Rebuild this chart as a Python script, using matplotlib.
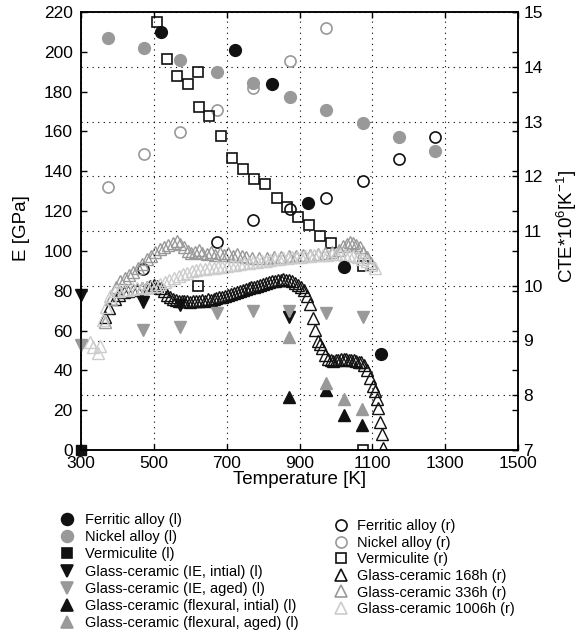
import matplotlib
matplotlib.use("Agg")
import matplotlib.pyplot as plt
from matplotlib.lines import Line2D

plt.rcParams['font.family'] = ['Liberation Sans', 'DejaVu Sans']
plt.rcParams['mathtext.fontset'] = 'custom'
plt.rcParams['mathtext.rm'] = 'Liberation Sans'

# ---------------- data: left axis (E, GPa) ----------------
ferr_l_T = [520, 723, 824, 922, 1022, 1123]
ferr_l_E = [210, 201, 184, 124, 92, 48]

nick_l_T = [373, 473, 573, 673, 773, 873, 973, 1073, 1173, 1273]
nick_l_E = [207, 202, 196, 190, 184.5, 177.5, 171, 164, 157.4, 150.2]

verm_l_T = [300]
verm_l_E = [0]

ie_init_T = [300, 471, 572, 872]
ie_init_E = [78, 74.5, 73, 67]

ie_aged_T = [300, 471, 572, 673, 773, 872, 973, 1073]
ie_aged_E = [52.7, 60.3, 62, 69, 70, 70, 69, 67]

flex_init_T = [872, 972, 1021, 1072]
flex_init_E = [26.8, 30, 17.6, 12.6]

flex_aged_T = [872, 972, 1021, 1072]
flex_aged_E = [57, 33.8, 25.4, 20.4]

# ---------------- data: right axis (CTE * 1e6, 1/K) ----------------
ferr_r_T = [471, 673, 773, 873, 973, 1073, 1173, 1273]
ferr_r_C = [10.30, 10.80, 11.21, 11.40, 11.60, 11.91, 12.31, 12.71]

nick_r_T = [373, 473, 573, 673, 773, 873, 973]
nick_r_C = [11.80, 12.41, 12.81, 13.21, 13.61, 14.11, 14.71]

verm_r_T = [508, 535, 563, 593, 622, 624, 652, 684, 715, 746, 776, 806,
            837, 867, 897, 926, 956, 986, 1073, 622, 1073]
verm_r_C = [14.82, 14.15, 13.84, 13.68, 13.91, 13.27, 13.10, 12.74, 12.33,
            12.13, 11.95, 11.85, 11.60, 11.43, 11.26, 11.11, 10.90, 10.78,
            10.36, 10.00, 7.00]

gc168_T = [366, 378, 392, 405, 418, 430, 442, 455, 468, 480, 490, 500, 510,
           520, 528, 536, 544, 552, 560, 568, 576, 584, 592, 600, 608, 616,
           624, 632, 640, 648, 656, 664, 672, 680, 688, 696, 704, 712, 720,
           728, 736, 744, 752, 760, 768, 776, 784, 792, 800, 808, 816, 824,
           832, 840, 848, 856, 864, 872, 880, 888, 896, 904, 912, 920, 929,
           938, 943, 951, 956, 962, 970, 979, 986, 993, 1000, 1007, 1014,
           1021, 1028, 1035, 1042, 1049, 1056, 1063, 1070, 1077, 1085, 1094,
           1103, 1107, 1112, 1116, 1121, 1126, 1130]
gc168_C = [9.43, 9.60, 9.76, 9.84, 9.88, 9.90, 9.92, 9.94, 9.96, 9.98, 10.00,
           10.02, 10.00, 9.96, 9.90, 9.84, 9.80, 9.76, 9.74, 9.72, 9.72, 9.73,
           9.72, 9.71, 9.72, 9.73, 9.72, 9.74, 9.73, 9.75, 9.74, 9.76, 9.77,
           9.79, 9.80, 9.82, 9.84, 9.85, 9.87, 9.89, 9.90, 9.92, 9.94, 9.95,
           9.97, 9.98, 10.00, 10.02, 10.03, 10.05, 10.06, 10.08, 10.09, 10.10,
           10.11, 10.12, 10.11, 10.10, 10.08, 10.05, 10.02, 9.98, 9.92, 9.82,
           9.66, 9.41, 9.19, 9.00, 8.93, 8.86, 8.74, 8.67, 8.64, 8.63, 8.64,
           8.65, 8.66, 8.66, 8.66, 8.65, 8.65, 8.64, 8.63, 8.61, 8.60, 8.56,
           8.46, 8.31, 8.16, 8.08, 7.94, 7.76, 7.52, 7.30, 7.03]

gc336_T = [366, 382, 395, 408, 420, 432, 444, 456, 468, 480, 492, 504, 516,
           528, 540, 552, 563, 573, 583, 593, 603, 613, 623, 633, 645, 657,
           669, 681, 693, 705, 717, 729, 741, 753, 770, 790, 810, 830, 850,
           870, 890, 910, 930, 950, 970, 990, 1008, 1020, 1030, 1040, 1048,
           1056, 1065, 1075, 1085, 1095]
gc336_C = [9.34, 9.75, 9.98, 10.08, 10.14, 10.20, 10.25, 10.32, 10.40, 10.48,
           10.55, 10.62, 10.67, 10.71, 10.74, 10.78, 10.81, 10.76, 10.70, 10.64,
           10.60, 10.62, 10.65, 10.60, 10.58, 10.62, 10.57, 10.60, 10.56, 10.59,
           10.55, 10.58, 10.54, 10.52, 10.50, 10.50, 10.51, 10.52, 10.53, 10.54,
           10.55, 10.56, 10.57, 10.58, 10.60, 10.62, 10.66, 10.72, 10.77, 10.80,
           10.78, 10.74, 10.70, 10.62, 10.52, 10.42]

gc1006_T = [325, 334, 346, 353, 361, 370, 380, 393, 405, 418, 430, 442, 455,
            468, 480, 492, 505, 518, 530, 542, 555, 568, 580, 592, 604, 616,
            628, 640, 652, 664, 676, 688, 700, 712, 724, 736, 748, 760, 772,
            784, 796, 808, 820, 832, 844, 856, 868, 880, 892, 904, 916, 928,
            940, 952, 964, 976, 988, 1000, 1012, 1024, 1036, 1048, 1060, 1072,
            1084, 1096, 1107]
gc1006_C = [8.98, 8.88, 8.78, 8.90, 9.37, 9.62, 9.82, 9.90, 9.91, 9.92, 9.93,
            9.94, 9.95, 9.95, 9.97, 9.99, 10.00, 10.03, 10.06, 10.10, 10.14,
            10.18, 10.21, 10.24, 10.27, 10.29, 10.30, 10.31, 10.32, 10.33,
            10.34, 10.35, 10.36, 10.37, 10.38, 10.40, 10.41, 10.42, 10.43,
            10.44, 10.45, 10.46, 10.47, 10.48, 10.49, 10.50, 10.51, 10.52,
            10.53, 10.53, 10.54, 10.55, 10.56, 10.56, 10.57, 10.57, 10.58,
            10.58, 10.58, 10.57, 10.56, 10.55, 10.52, 10.49, 10.45, 10.38,
            10.32]

x_ticks = [300, 500, 700, 900, 1100, 1300, 1500]
left_ticks = list(range(0, 221, 20))
right_ticks = [7, 8, 9, 10, 11, 12, 13, 14, 15]

BLACK = '#111111'
GRAY = '#999999'
LGRAY = '#cccccc'
GRID = dict(color='black', linestyle=(0, (1, 4)), linewidth=0.8)

fig = plt.figure(figsize=(5.82, 6.33), dpi=100)
ax = fig.add_axes([81/582, 1 - 450/633, 437/582, 438/633])
ax2 = ax.twinx()
ax2.set_zorder(0)
ax.set_zorder(1)
ax.patch.set_visible(False)

# right-axis series (drawn underneath)
ax2.plot(ferr_r_T, ferr_r_C, 'o', ms=8, mfc='none', mec=BLACK, mew=1.2)
ax2.plot(nick_r_T, nick_r_C, 'o', ms=8, mfc='none', mec=GRAY, mew=1.2)
ax2.plot(verm_r_T, verm_r_C, 's', ms=6.5, mfc='none', mec=BLACK, mew=1.2)
ax2.plot(gc168_T, gc168_C, '^', ms=8.5, mfc='none', mec=BLACK, mew=1.0)
ax2.plot(gc336_T, gc336_C, '^', ms=8.5, mfc='none', mec=GRAY, mew=1.0)
ax2.plot(gc1006_T, gc1006_C, '^', ms=8.5, mfc='none', mec=LGRAY, mew=1.0)

# left-axis series
ax.plot(ferr_l_T, ferr_l_E, 'o', ms=8.5, color=BLACK, mec=BLACK)
ax.plot(nick_l_T, nick_l_E, 'o', ms=8.5, color=GRAY, mec=GRAY)
ax.plot(verm_l_T, verm_l_E, 's', ms=7, color=BLACK, clip_on=False)
ax.plot(ie_init_T, ie_init_E, 'v', ms=8.5, color=BLACK, clip_on=False)
ax.plot(ie_aged_T, ie_aged_E, 'v', ms=8.5, color=GRAY, clip_on=False)
ax.plot(flex_init_T, flex_init_E, '^', ms=8.5, color=BLACK)
ax.plot(flex_aged_T, flex_aged_E, '^', ms=8.5, color=GRAY)

ax.set_xlim(300, 1500)
ax.set_ylim(0, 220)
ax2.set_ylim(7, 15)
ax.set_xticks(x_ticks)
ax.set_yticks(left_ticks)
ax2.set_yticks(right_ticks)

ax2.grid(True, axis='y', **GRID)
ax.set_axisbelow(True)
ax.grid(True, axis='x', **GRID)

for a in (ax, ax2):
    for s in a.spines.values():
        s.set_linewidth(1.1)
ax.tick_params(axis='both', direction='in', length=4, width=1.0,
               labelsize=12.5, top=True, right=True, pad=4)
ax.tick_params(axis='y', pad=6)
ax2.tick_params(axis='y', direction='in', length=4, width=1.0,
                labelsize=12.5, pad=4)

ax.set_xlabel('Temperature [K]', fontsize=13.5, labelpad=0)
ax.set_ylabel('E [GPa]', fontsize=13.5)
ax.yaxis.set_label_coords(-0.117, 0.507)
ax2.set_ylabel('CTE*10$^{\\mathregular{6}}$[K$^{\\mathregular{-1}}$]', fontsize=13.5)
ax2.yaxis.set_label_coords(1.083, 0.511)

# legends
def h(marker, face, edge, ms=8.5):
    return Line2D([], [], linestyle='none', marker=marker, ms=ms,
                  mfc=face, mec=edge, mew=1.2)

left_handles = [h('o', BLACK, BLACK), h('o', GRAY, GRAY), h('s', BLACK, BLACK, 7),
                h('v', BLACK, BLACK), h('v', GRAY, GRAY),
                h('^', BLACK, BLACK), h('^', GRAY, GRAY)]
left_labels = ['Ferritic alloy (l)', 'Nickel alloy (l)', 'Vermiculite (l)',
               'Glass-ceramic (IE, intial) (l)', 'Glass-ceramic (IE, aged) (l)',
               'Glass-ceramic (flexural, intial) (l)',
               'Glass-ceramic (flexural, aged) (l)']
right_handles = [h('o', 'none', BLACK, 8), h('o', 'none', GRAY, 8),
                 h('s', 'none', BLACK, 6.5), h('^', 'none', BLACK),
                 h('^', 'none', GRAY), h('^', 'none', LGRAY)]
right_labels = ['Ferritic alloy (r)', 'Nickel alloy (r)', 'Vermiculite (r)',
                'Glass-ceramic 168h (r)', 'Glass-ceramic 336h (r)',
                'Glass-ceramic 1006h (r)']

fig.legend(left_handles, left_labels, loc='upper left',
           bbox_to_anchor=(60/582, 1 - 513/633), frameon=False,
           fontsize=10.5, handlelength=1.0, handletextpad=0.7,
           labelspacing=0.22, borderaxespad=0, borderpad=0)
fig.legend(right_handles, right_labels, loc='upper left',
           bbox_to_anchor=(334/582, 1 - 519/633), frameon=False,
           fontsize=10.5, handlelength=1.0, handletextpad=0.6,
           labelspacing=0.18, borderaxespad=0, borderpad=0)

fig.savefig('out.png', dpi=100)
